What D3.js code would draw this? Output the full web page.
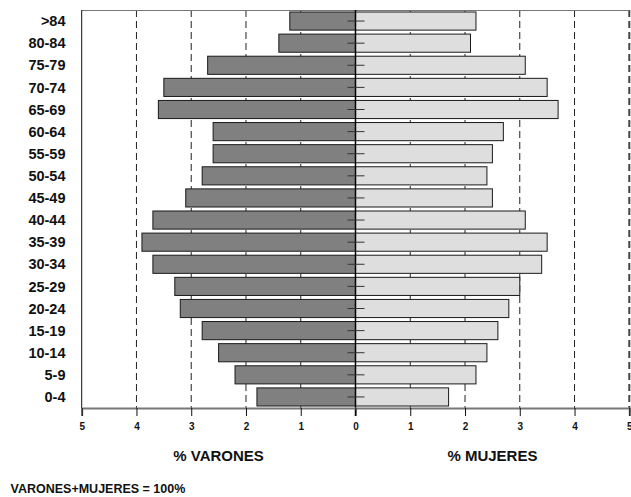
<!DOCTYPE html>
<html>
<head>
<meta charset="utf-8">
<script src="https://cdn.jsdelivr.net/npm/d3@7"></script>
<style>
  body { margin: 0; background: #fff; }
  svg { display: block; font-family: Arial, "Liberation Sans", sans-serif; font-weight: bold; }
</style>
</head>
<body>
<div class="container"></div>
<script>
"use strict";

var width = 631;
var height = 497;

// age groups, top to bottom
var groups = [">84", "80-84", "75-79", "70-74", "65-69", "60-64", "55-59", "50-54", "45-49",
    "40-44", "35-39", "30-34", "25-29", "20-24", "15-19", "10-14", "5-9", "0-4"];

// % varones / % mujeres
var varones = [1.2, 1.4, 2.7, 3.5, 3.6, 2.6, 2.6, 2.8, 3.1, 3.7, 3.9, 3.7, 3.3, 3.2, 2.8, 2.5, 2.2, 1.8];
var mujeres = [2.2, 2.1, 3.1, 3.5, 3.7, 2.7, 2.5, 2.4, 2.5, 3.1, 3.5, 3.4, 3.0, 2.8, 2.6, 2.4, 2.2, 1.7];

var tickValues = [-5, -4, -3, -2, -1, 0, 1, 2, 3, 4, 5];

var plotLeft = 81.7, plotRight = 629.3, plotTop = 10, plotBottom = 408;

var x = d3.scaleLinear().domain([-5, 5]).range([plotLeft, plotRight]);
var y = d3.scaleBand().domain(groups).range([plotTop, plotBottom])
    .paddingInner(0.18).paddingOuter(0.09);

var svg = d3.select(".container").append("svg")
    .attr("width", width)
    .attr("height", height);

// dashed gridlines
svg.append("g").selectAll("line")
    .data(tickValues.filter(function(d) { return d !== 0 && d !== -5; }))
    .enter().append("line")
    .attr("x1", function(d) { return x(d); })
    .attr("x2", function(d) { return x(d); })
    .attr("y1", plotTop)
    .attr("y2", plotBottom)
    .attr("stroke", function(d) { return d === 5 ? "#444" : "#222"; })
    .attr("stroke-width", function(d) { return d === 5 ? 2 : 1; })
    .attr("stroke-dasharray", "7,4");

// frame: top and left
svg.append("line")
    .attr("x1", plotLeft).attr("x2", plotRight).attr("y1", plotTop + 0.5).attr("y2", plotTop + 0.5)
    .attr("stroke", "#777").attr("stroke-width", 1);
svg.append("line")
    .attr("x1", plotLeft).attr("x2", plotLeft).attr("y1", plotTop).attr("y2", plotBottom)
    .attr("stroke", "#111").attr("stroke-width", 1);

// bars
svg.append("g").selectAll("rect")
    .data(varones)
    .enter().append("rect")
    .attr("x", function(d) { return x(-d); })
    .attr("y", function(d, i) { return y(groups[i]); })
    .attr("width", function(d) { return x(0) - x(-d); })
    .attr("height", y.bandwidth())
    .attr("fill", "#808080")
    .attr("stroke", "#1a1a1a")
    .attr("stroke-width", 1);

svg.append("g").selectAll("rect")
    .data(mujeres)
    .enter().append("rect")
    .attr("x", x(0))
    .attr("y", function(d, i) { return y(groups[i]); })
    .attr("width", function(d) { return x(d) - x(0); })
    .attr("height", y.bandwidth())
    .attr("fill", "#dedede")
    .attr("stroke", "#1a1a1a")
    .attr("stroke-width", 1);

// center axis with category ticks
svg.append("line")
    .attr("x1", x(0)).attr("x2", x(0)).attr("y1", plotTop).attr("y2", plotBottom + 8)
    .attr("stroke", "#000").attr("stroke-width", 1.5);

svg.append("g").selectAll("line")
    .data(groups)
    .enter().append("line")
    .attr("x1", x(0) - 8)
    .attr("x2", x(0) + 9)
    .attr("y1", function(d) { return y(d) + y.bandwidth() / 2; })
    .attr("y2", function(d) { return y(d) + y.bandwidth() / 2; })
    .attr("stroke", "#333")
    .attr("stroke-width", 1);

// category labels
svg.append("g").selectAll("text")
    .data(groups)
    .enter().append("text")
    .attr("x", 65.5)
    .attr("y", function(d) { return y(d) + y.bandwidth() / 2; })
    .attr("dy", "0.36em")
    .attr("text-anchor", "end")
    .attr("font-size", "14.5px")
    .attr("fill", "#111")
    .text(function(d) { return d; });

// bottom axis
var xAxis = d3.axisBottom(x)
    .tickValues(tickValues)
    .tickSize(8)
    .tickPadding(7)
    .tickFormat(function(d) { return Math.abs(d); });

var gx = svg.append("g")
    .attr("transform", "translate(0," + plotBottom + ")")
    .call(xAxis);
gx.select(".domain").attr("stroke", "#777").attr("stroke-width", 2);
gx.selectAll(".tick line").attr("stroke", "#111");
gx.selectAll(".tick text")
    .attr("font-family", "Arial, 'Liberation Sans', sans-serif")
    .attr("font-weight", "bold")
    .attr("font-size", "10px")
    .attr("fill", "#111");

// axis titles
svg.append("text")
    .attr("x", x(-2.5)).attr("y", 461)
    .attr("text-anchor", "middle")
    .attr("font-size", "15px")
    .attr("fill", "#111")
    .text("% VARONES");
svg.append("text")
    .attr("x", x(2.5)).attr("y", 461)
    .attr("text-anchor", "middle")
    .attr("font-size", "15px")
    .attr("fill", "#111")
    .text("% MUJERES");

svg.append("text")
    .attr("x", 10.5).attr("y", 493)
    .attr("font-size", "12.5px")
    .attr("fill", "#111")
    .text("VARONES+MUJERES = 100%");
</script>
</body>
</html>
